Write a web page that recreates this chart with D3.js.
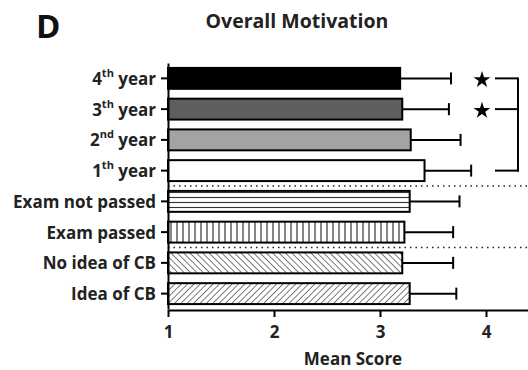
<!DOCTYPE html>
<html>
<head>
<meta charset="utf-8">
<script src="https://cdn.jsdelivr.net/npm/d3@7"></script>
<style>
  html, body { margin: 0; padding: 0; background: #fff; }
  svg { display: block; font-family: "Open Sans", "DejaVu Sans", sans-serif; }
</style>
</head>
<body>
<svg id="chart" width="528" height="370"></svg>
<script>
// Group labels (top to bottom) and their mean scores with SD
const categories = ["4th year", "3th year", "2nd year", "1th year",
                    "Exam not passed", "Exam passed", "No idea of CB", "Idea of CB"];
const meanScores = [3.19, 3.21, 3.29, 3.42, 3.28, 3.23, 3.21, 3.28];
const sdScores   = [0.48, 0.44, 0.47, 0.44, 0.47, 0.46, 0.48, 0.44];
const fills      = ["#000000", "#5e5e5e", "#a3a3a3", "#ffffff",
                    "url(#hLines)", "url(#vLines)", "url(#diagBack)", "url(#diagFwd)"];
const xTicks     = [1, 2, 3, 4];
const starred    = ["4th year", "3th year"];
const bracketSet = ["4th year", "3th year", "1th year"];
const separators = [["1th year", "Exam not passed"], ["Exam passed", "No idea of CB"]];

const svg = d3.select("#chart");
const defs = svg.append("defs");

// Fill patterns
const hp = defs.append("pattern").attr("id", "hLines").attr("patternUnits", "userSpaceOnUse")
  .attr("width", 8).attr("height", 5);
hp.append("rect").attr("width", 8).attr("height", 5).attr("fill", "#fff");
hp.append("line").attr("x1", 0).attr("x2", 8).attr("y1", 2.5).attr("y2", 2.5)
  .attr("stroke", "#333").attr("stroke-width", 1.1);

const vp = defs.append("pattern").attr("id", "vLines").attr("patternUnits", "userSpaceOnUse")
  .attr("width", 6).attr("height", 6);
vp.append("rect").attr("width", 6).attr("height", 6).attr("fill", "#fff");
vp.append("line").attr("x1", 3).attr("x2", 3).attr("y1", 0).attr("y2", 6)
  .attr("stroke", "#222").attr("stroke-width", 1.1);

function diag(id, angle) {
  const p = defs.append("pattern").attr("id", id).attr("patternUnits", "userSpaceOnUse")
    .attr("width", 4.5).attr("height", 4.5).attr("patternTransform", `rotate(${angle})`);
  p.append("rect").attr("width", 4.5).attr("height", 4.5).attr("fill", "#fff");
  p.append("line").attr("x1", 0).attr("x2", 0).attr("y1", 0).attr("y2", 4.5)
    .attr("stroke", "#222").attr("stroke-width", 1.2);
}
diag("diagBack", -45);
diag("diagFwd", 45);

// Scales
const x = d3.scaleLinear().domain([1, 4.5]).range([168, 539]);
const y = d3.scaleBand().domain(categories).range([63, 309]).paddingInner(0.32).paddingOuter(0.16);

// Panel letter and title
svg.append("text").attr("x", 36).attr("y", 38).attr("font-size", 33).attr("font-weight", 700)
  .attr("fill", "#111").text("D");
svg.append("text").attr("x", 297).attr("y", 28).attr("text-anchor", "middle")
  .attr("font-size", 19.5).attr("font-weight", 700).attr("fill", "#222").text("Overall Motivation");

// Bars
svg.append("g").selectAll("rect").data(categories).join("rect")
  .attr("x", x(1))
  .attr("y", d => y(d))
  .attr("width", (d, i) => x(meanScores[i]) - x(1))
  .attr("height", y.bandwidth())
  .attr("fill", (d, i) => fills[i])
  .attr("stroke", "#000").attr("stroke-width", 2);

// Error bars (upper side)
const eb = svg.append("g").attr("stroke", "#000").attr("stroke-width", 2);
categories.forEach((c, i) => {
  const cy = y(c) + y.bandwidth() / 2;
  const xe = x(meanScores[i] + sdScores[i]);
  eb.append("line").attr("x1", x(meanScores[i])).attr("x2", xe).attr("y1", cy).attr("y2", cy);
  eb.append("line").attr("x1", xe).attr("x2", xe).attr("y1", cy - 6).attr("y2", cy + 6);
});

// Dotted group separators
separators.forEach(([a, b]) => {
  const ys = (y(a) + y.bandwidth() + y(b)) / 2;
  svg.append("line").attr("x1", x(1)).attr("x2", 528).attr("y1", ys).attr("y2", ys)
    .attr("stroke", "#222").attr("stroke-width", 1.5).attr("stroke-dasharray", "1.5,4");
});

// Significance stars and bracket
starred.forEach(c => {
  svg.append("path").attr("d", d3.symbol().type(d3.symbolStar).size(88)())
    .attr("transform", `translate(482,${y(c) + y.bandwidth() / 2 + 1.5})`).attr("fill", "#000");
});
const br = svg.append("g").attr("stroke", "#000").attr("stroke-width", 2).attr("fill", "none");
const bys = bracketSet.map(c => y(c) + y.bandwidth() / 2);
bys.forEach(v => br.append("line").attr("x1", 495).attr("x2", 518).attr("y1", v).attr("y2", v));
br.append("line").attr("x1", 518).attr("x2", 518).attr("y1", d3.min(bys) - 1).attr("y2", d3.max(bys) + 1);

// X axis
const xa = svg.append("g").attr("transform", "translate(0,310)")
  .call(d3.axisBottom(x).tickValues(xTicks).tickFormat(d3.format("d")).tickSize(7).tickSizeOuter(0));
xa.select(".domain").attr("stroke", "#000").attr("stroke-width", 2);
xa.selectAll(".tick line").attr("stroke", "#000").attr("stroke-width", 2);
xa.selectAll(".tick text").attr("font-size", 17).attr("font-weight", 700).attr("fill", "#222")
  .attr("font-family", "Open Sans, sans-serif").attr("y", 28).attr("dy", 0);
svg.append("text").attr("x", 353).attr("y", 364.5).attr("text-anchor", "middle")
  .attr("font-size", 17).attr("font-weight", 700).attr("fill", "#222").text("Mean Score");

// Y axis
const ya = svg.append("g").attr("transform", "translate(168,0)")
  .call(d3.axisLeft(y).tickSize(7).tickSizeOuter(0).tickFormat(""));
ya.select(".domain").attr("stroke", "#000").attr("stroke-width", 2);
ya.selectAll(".tick line").attr("stroke", "#000").attr("stroke-width", 2);
ya.selectAll(".tick").each(function(d) {
  const t = d3.select(this).append("text").attr("x", -12).attr("y", 6.5)
    .attr("text-anchor", "end").attr("font-size", 17).attr("font-weight", 700)
    .attr("fill", "#222").attr("font-family", "Open Sans, sans-serif");
  const m = d.match(/^(\d)(th|nd)( year)$/);
  if (m) {
    t.append("tspan").text(m[1]);
    t.append("tspan").attr("font-size", 11).attr("dy", -8).text(m[2]);
    t.append("tspan").attr("dy", 8).attr("font-size", 17).text("\u00a0" + m[3].trim());
  } else {
    t.text(d);
  }
});
</script>
</body>
</html>
